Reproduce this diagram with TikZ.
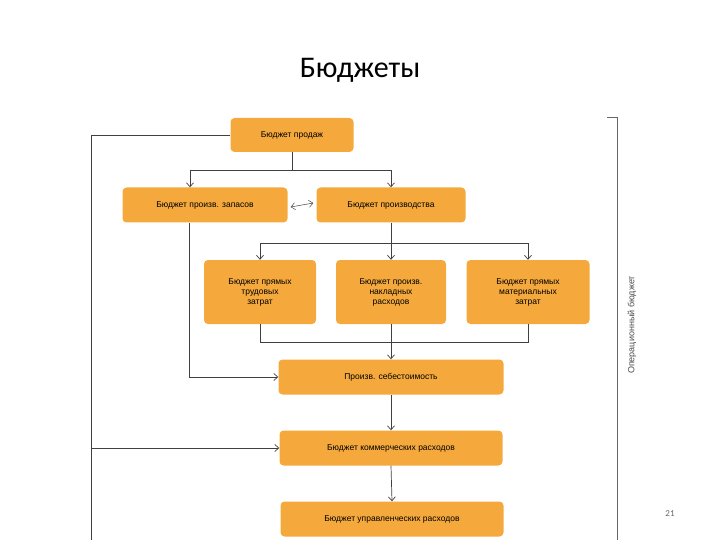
\documentclass[tikz,border=0pt]{standalone}
\usepackage{fontspec}
\setmainfont{Carlito}
\newfontfamily\boxfont{Liberation Sans}
\usetikzlibrary{arrows.meta}
\definecolor{bor}{HTML}{F5A93C}
\begin{document}
\begin{tikzpicture}[x=1pt,y=-1pt,
 bx/.style={fill=bor,rounded corners=4pt,font=\boxfont\fontsize{8.5}{10}\selectfont,align=center,inner sep=0pt},
 ln/.style={draw=black!75,line width=0.7pt},
 ar/.style={ln,-{Straight Barb[length=4pt,width=7pt]}}]
\useasboundingbox (0,0) rectangle (720,540);
\node[font=\fontsize{30}{34}\selectfont] (title) at (360,70) {Бюджеты};
\node[bx,minimum width=123,minimum height=34] (s) at (292,135) {Бюджет продаж};
\node[bx,minimum width=165,minimum height=35] (inv) at (205,205) {Бюджет произв. запасов};
\node[bx,minimum width=149,minimum height=35] (pr) at (391,205) {Бюджет производства};
\node[bx,minimum width=112,minimum height=64] (lab) at (260,292) {Бюджет прямых\\трудовых\\затрат};
\node[bx,minimum width=110,minimum height=64] (ov) at (391,292) {Бюджет произв.\\накладных\\расходов};
\node[bx,minimum width=123,minimum height=64] (mat) at (528,292) {Бюджет прямых\\материальных\\затрат};
\node[bx,minimum width=225,minimum height=35] (cost) at (391,377) {Произв. себестоимость};
\node[bx,minimum width=223,minimum height=35] (com) at (391,448) {Бюджет коммерческих расходов};
\node[bx,minimum width=223,minimum height=35] (adm) at (392,519) {Бюджет управленческих расходов};
\coordinate (L) at (91,540);
\draw[ln] (s.west) -- (91,135) -- (L);
\draw[ar] (91,448) -- (com.west);
\draw[ln] (s.south) -- (292,170);
\draw[ar] (190,170) -- (inv.north -| 190,0);
\draw[ar] (190,170) -- (391,170) -- (pr.north);
\draw[ar,{Straight Barb[length=4pt,width=7pt]}-{Straight Barb[length=4pt,width=7pt]},line width=0.5pt] (inv.east) ++(3,2) -- ([xshift=-3pt,yshift=2pt]pr.west);
\draw[ln] (pr.south) -- (391,243);
\draw[ar] (391,243) -- (ov.north);
\draw[ar] (260,243) -- (528,243) -- (mat.north);
\draw[ar] (260,243) -- (lab.north);
\draw[ln] (lab.south) -- (260,342) -- (528,342) -- (mat.south);
\draw[ar] (ov.south) -- (cost.north);
\draw[ar] (189,223) -- (189,377) -- (cost.west);
\draw[ar] (cost.south) -- (com.north);
\draw[ar] (com.south) -- (adm.north);
\draw[ln,line width=1pt,black!60] (607,118) -- (617,118) -- (617,540);
\node[rotate=90,font=\boxfont\fontsize{9}{10}\selectfont,text=black!70] (op) at (632,325) {Операционный бюджет};
\node[font=\fontsize{9}{10}\selectfont,text=black!60] (pg) at (670,514) {21};
\end{tikzpicture}
\end{document}
